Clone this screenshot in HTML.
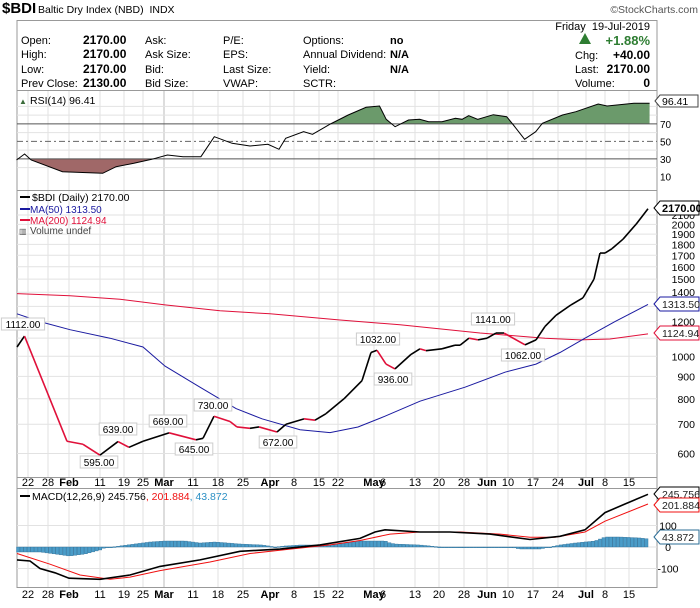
<!DOCTYPE html>
<html><head><meta charset="utf-8"><style>
body{margin:0;background:#fff;}
svg text{font-family:"Liberation Sans",sans-serif;}
</style></head><body>
<svg id="c" width="700" height="603" xmlns="http://www.w3.org/2000/svg"></svg>
<script>
const S=document.getElementById('c');let h='';
const L=17,R=657;
function t(x,y,s,o){o=o||{};h+=`<text x="${x}" y="${y}" font-size="${o.fs||11}" fill="${o.c||'#000'}" ${o.b?'font-weight="bold"':''} ${o.a?'text-anchor="'+o.a+'"':''} ${o.f?'font-family="'+o.f+'"':''}>${s}</text>`;}
function ln(x1,y1,x2,y2,c,w,d){h+=`<line x1="${x1}" y1="${y1}" x2="${x2}" y2="${y2}" stroke="${c}" stroke-width="${w||1}" ${d?'stroke-dasharray="'+d+'"':''}/>`;}
function interp(pts,x){if(x<=pts[0][0])return pts[0][1];for(let i=1;i<pts.length;i++){if(x<=pts[i][0]){const a=pts[i-1],b=pts[i];return a[1]+(b[1]-a[1])*(x-a[0])/(b[0]-a[0]);}}return pts[pts.length-1][1];}
function path(pts,c,w){h+=`<polyline fill="none" stroke="${c}" stroke-width="${w||1}" points="${pts.map(p=>p[0].toFixed(1)+','+p[1].toFixed(1)).join(' ')}"/>`;}
// header
t(2,13,'$BDI',{fs:15,b:1});t(38,13,'Baltic Dry Index (NBD)&#160; INDX',{fs:10.5});
t(698,13,'©StockCharts.com',{fs:10.5,c:'#555',a:'end'});
h+=`<rect x="${L}" y="20.5" width="${R-L}" height="567" fill="none" stroke="#999"/>`;
t(650,30,'Friday&#160; 19-Jul-2019',{fs:11,a:'end'});
const rows=[44,58,73,87];
[['Open:','2170.00','Ask:','P/E:','Options:','no'],['High:','2170.00','Ask Size:','EPS:','Annual Dividend:','N/A'],['Low:','2170.00','Bid:','Last Size:','Yield:','N/A'],['Prev Close:','2130.00','Bid Size:','VWAP:','SCTR:','']].forEach((r,i)=>{
 const y=rows[i];t(21,y,r[0]);t(83,y,r[1],{b:1,fs:12});t(145,y,r[2]);t(223,y,r[3]);t(303,y,r[4]);t(390,y,r[5],{b:1});});
h+=`<polygon points="579,44 585,33 591,44" fill="#2e7d32"/>`;t(650,45,'+1.88%',{fs:13,b:1,c:'#2e7d32',a:'end'});
t(575,59,'Chg:');t(650,59,'+40.00',{b:1,fs:12,a:'end'});
t(575,73,'Last:');t(650,73,'2170.00',{b:1,fs:12,a:'end'});
t(575,87,'Volume:');t(650,87,'0',{b:1,fs:12,a:'end'});
ln(L,90.5,R,90.5,'#999');
const xs=[[28,'22'],[48,'28'],[69,'Feb',1],[100,'11'],[124,'19'],[143,'25'],[164,'Mar',1],[193,'11'],[218,'18'],[243,'25'],[270,'Apr',1],[294,'8'],[319,'15'],[338,'22'],[374,'May',1],[387,'6'],[415,'13'],[439,'20'],[464,'28'],[487,'Jun',1],[508,'10'],[533,'17'],[558,'24'],[586,'Jul',1],[605,'8'],[629,'15']];
function vgrid(y1,y2){xs.forEach(g=>{if(g[1]==='6')return;ln(g[0],y1,g[0],y2,g[0]==164?'#bbb':'#e2e2e2');});}
// RSI
const ry=v=>158.9-(v-30)*0.875;
vgrid(91,190);
[90,80,60,40,20].forEach(v=>ln(L,ry(v),R,ry(v),'#e2e2e2'));
const rsi=[[37,480],[55,462],[70,480],[140,515],[230,520],[260,500],[300,490],[340,478],[375,465],[410,470],[450,470],[480,410],[520,430],[560,438],[600,433],[625,448],[640,415],[680,395],[700,403],[740,372],[780,345],[820,322],[850,318],[865,358],[885,380],[915,360],[940,358],[960,365],[990,365],[1020,355],[1035,358],[1050,347],[1070,358],[1105,344],[1135,350],[1150,375],[1175,418],[1200,395],[1215,370],[1260,345],[1290,335],[1340,312],[1360,318],[1420,310],[1455,310]].map(p=>[p[0]/2.24,p[1]/3]);
const y70=ry(70),y30=ry(30);
h+=`<defs><clipPath id="ca"><rect x="0" y="0" width="700" height="${y70}"/></clipPath><clipPath id="cb"><rect x="0" y="${y30}" width="700" height="40"/></clipPath></defs>`;
const rp=rsi.map(p=>p[0].toFixed(1)+','+p[1].toFixed(1)).join(' ');
h+=`<polygon clip-path="url(#ca)" fill="#6b9a6b" points="${rsi[0][0]},${y70} ${rp} ${rsi[rsi.length-1][0]},${y70}"/>`;
h+=`<polygon clip-path="url(#cb)" fill="#a06868" points="${rsi[0][0]},${y30} ${rp} ${rsi[rsi.length-1][0]},${y30}"/>`;
ln(L,y70,R,y70,'#555');ln(L,y30,R,y30,'#555');ln(L,ry(50),R,ry(50),'#666',1,'6,3,2,3');
path(rsi,'#000',1);
[[70,'70'],[50,'50'],[30,'30'],[10,'10']].forEach(v=>t(660,ry(v[0])+4,v[1],{fs:10}));
t(19,104,'▲',{fs:8,c:'#3a6b3a'});t(30,104,'RSI(14) 96.41',{fs:10.5,f:'DejaVu Sans Mono, monospace'});
h+=`<polygon points="655,101 660,95 698,95 698,107 660,107" fill="#fff" stroke="#444"/>`;t(662,105,'96.41',{fs:10.5});
ln(L,190.5,R,190.5,'#999');
// price
const py=v=>356.3-190.4*Math.log(v/1000);
vgrid(191,477);
[2100,2000,1900,1800,1700,1600,1500,1400,1300,1200,1100,1000,900,800,700,600].forEach(v=>{ln(L,py(v),R,py(v),'#e2e2e2');});
[2100,2000,1900,1800,1700,1600,1500,1400,1200,1000,900,800,700,600].forEach(v=>t(695,py(v)+4,v,{fs:10.5,a:'end'}));
const px=[[17,1050],[24.5,1112],[67,640],[83,630],[100,595],[118,639],[129,620],[143,640],[169,669],[196,645],[203,650],[214,730],[230,710],[237,690],[250,685],[259,690],[277,672],[286,700],[304,720],[315,715],[326,740],[344,800],[362,880],[371,1020],[377,1032],[386,960],[395,936],[411,1010],[420,1040],[426,1030],[442,1040],[455,1060],[460,1060],[469,1100],[478,1090],[487,1100],[496,1130],[504,1130],[525,1062],[536,1090],[545,1170],[556,1240],[571,1310],[583,1360],[594,1500],[600,1720],[605,1720],[612,1760],[623,1850],[636,2000],[648,2170]];
path([[17,1390],[70,1375],[120,1350],[165,1310],[220,1270],[270,1250],[340,1210],[400,1180],[480,1130],[545,1100],[580,1090],[610,1095],[648,1125]].map(p=>[p[0],py(p[1])]),'#e0103a',1);
path([[17,1250],[40,1200],[70,1150],[110,1100],[143,1050],[165,950],[200,850],[236,760],[262,720],[300,680],[330,670],[358,690],[385,730],[420,790],[465,850],[505,920],[536,960],[560,1020],[585,1100],[615,1200],[648,1313.5]].map(p=>[p[0],py(p[1])]),'#1a1aa0',1);
for(let i=1;i<px.length;i++){const a=px[i-1],b=px[i];ln(a[0],py(a[1]),b[0],py(b[1]),b[1]<a[1]?'#e0103a':'#000',1.6);}
function lab(x,y,s){const w=s.length*5.6+4;h+=`<rect x="${x-w/2}" y="${y-8}" width="${w}" height="12" fill="#fff" stroke="#ccc"/>`;t(x,y+2,s,{fs:10,a:'middle'});}
lab(23,326,'1112.00');lab(99,464,'595.00');lab(118,431,'639.00');lab(168,423,'669.00');lab(194,451,'645.00');lab(213,407,'730.00');lab(278,444,'672.00');lab(378,341,'1032.00');lab(393,381,'936.00');lab(493,321,'1141.00');lab(523,357,'1062.00');
ln(20,197,30,197,'#000',2);t(32,201,'$BDI (Daily) 2170.00',{fs:10.5,f:'DejaVu Sans Mono, monospace'});
ln(20,209,30,209,'#1a1aa0',2);t(30,213,'MA(50) 1313.50',{fs:10,c:'#1a1aa0'});
ln(20,220,30,220,'#e0103a',2);t(30,224,'MA(200) 1124.94',{fs:10,c:'#e0103a'});
t(19,234,'▥',{fs:8,c:'#555'});t(30,234,'Volume undef',{fs:10,c:'#444'});
function box(y,s,c,b){h+=`<polygon points="654,${y} 660,${y-7} 699,${y-7} 699,${y+7} 660,${y+7}" fill="#fff" stroke="${c}"/>`;t(662,y+4,s,{fs:b?11:10.5,b:b,c:b?'#000':'#222'});}
box(208,'2170.00','#000',1);box(304,'1313.50','#1a1aa0');box(333,'1124.94','#e0103a');
ln(L,477.5,R,477.5,'#999');
function dates(y){xs.forEach(g=>t(g[0]+(g[1]=='6'?-4:0),y,g[1],{fs:11,b:g[2],a:'middle'}));}
dates(486);
ln(L,488.5,R,488.5,'#999');
// MACD
const my=v=>547-v*0.215;
vgrid(489,587);
[100,0,-100].forEach(v=>ln(L,my(v),R,my(v),'#e2e2e2'));
const mac=[[17,-60],[30,-65],[40,-100],[55,-120],[69,-145],[100,-150],[130,-130],[160,-90],[200,-60],[240,-20],[280,-10],[320,10],[360,40],[375,70],[385,80],[420,70],[450,70],[490,60],[530,35],[560,50],[585,80],[605,160],[625,200],[648,245]];
const sig=[[17,-30],[50,-80],[80,-130],[110,-150],[130,-140],[160,-110],[210,-70],[250,-30],[290,-10],[330,10],[360,30],[390,60],[420,70],[460,70],[500,60],[530,45],[555,45],[585,70],[605,120],[648,200]];
const hist=[[17,-5],[40,-5],[55,-7],[69,-9],[85,-7],[100,-3],[106,0],[112,0],[120,1],[135,3],[150,5],[165,6],[185,6],[200,4],[215,5],[240,3],[262,2],[275,0],[285,1],[300,2],[330,2],[345,4],[360,6],[385,6],[390,4],[395,3],[420,2],[440,0],[510,0],[520,-2],[540,-2],[550,0],[560,2],[575,4],[595,6],[605,10],[620,10],[640,9],[648,8]];
for(let x=18;x<=648;x+=3.57){const v=interp(hist,x);const y0=my(0),y1=y0-v;h+=`<rect x="${x-1.5}" y="${Math.min(y0,y1)}" width="3.2" height="${Math.max(0.8,Math.abs(y1-y0))}" fill="#4a9cc8" stroke="#2b6d96" stroke-width="0.4"/>`;}
path(sig.map(p=>[p[0],my(p[1])]),'#f01010',1);
path(mac.map(p=>[p[0],my(p[1])]),'#000',1.6);
[[100,'100'],[0,'0'],[-100,'-100']].forEach(v=>t(668,my(v[0])+4,v[1],{fs:10.5,a:'middle'}));
ln(20,496,30,496,'#000',2);
h+=`<text x="32" y="500" font-size="10.5" font-family="DejaVu Sans Mono, monospace">MACD(12,26,9) 245.756<tspan fill="#f01010">, 201.884</tspan><tspan fill="#2b8fc4">, 43.872</tspan></text>`;
box(494,'245.756','#000');box(505,'201.884','#f01010');box(537,'43.872','#2b6d96');
dates(598);
S.innerHTML=h;
</script>
</body></html>
